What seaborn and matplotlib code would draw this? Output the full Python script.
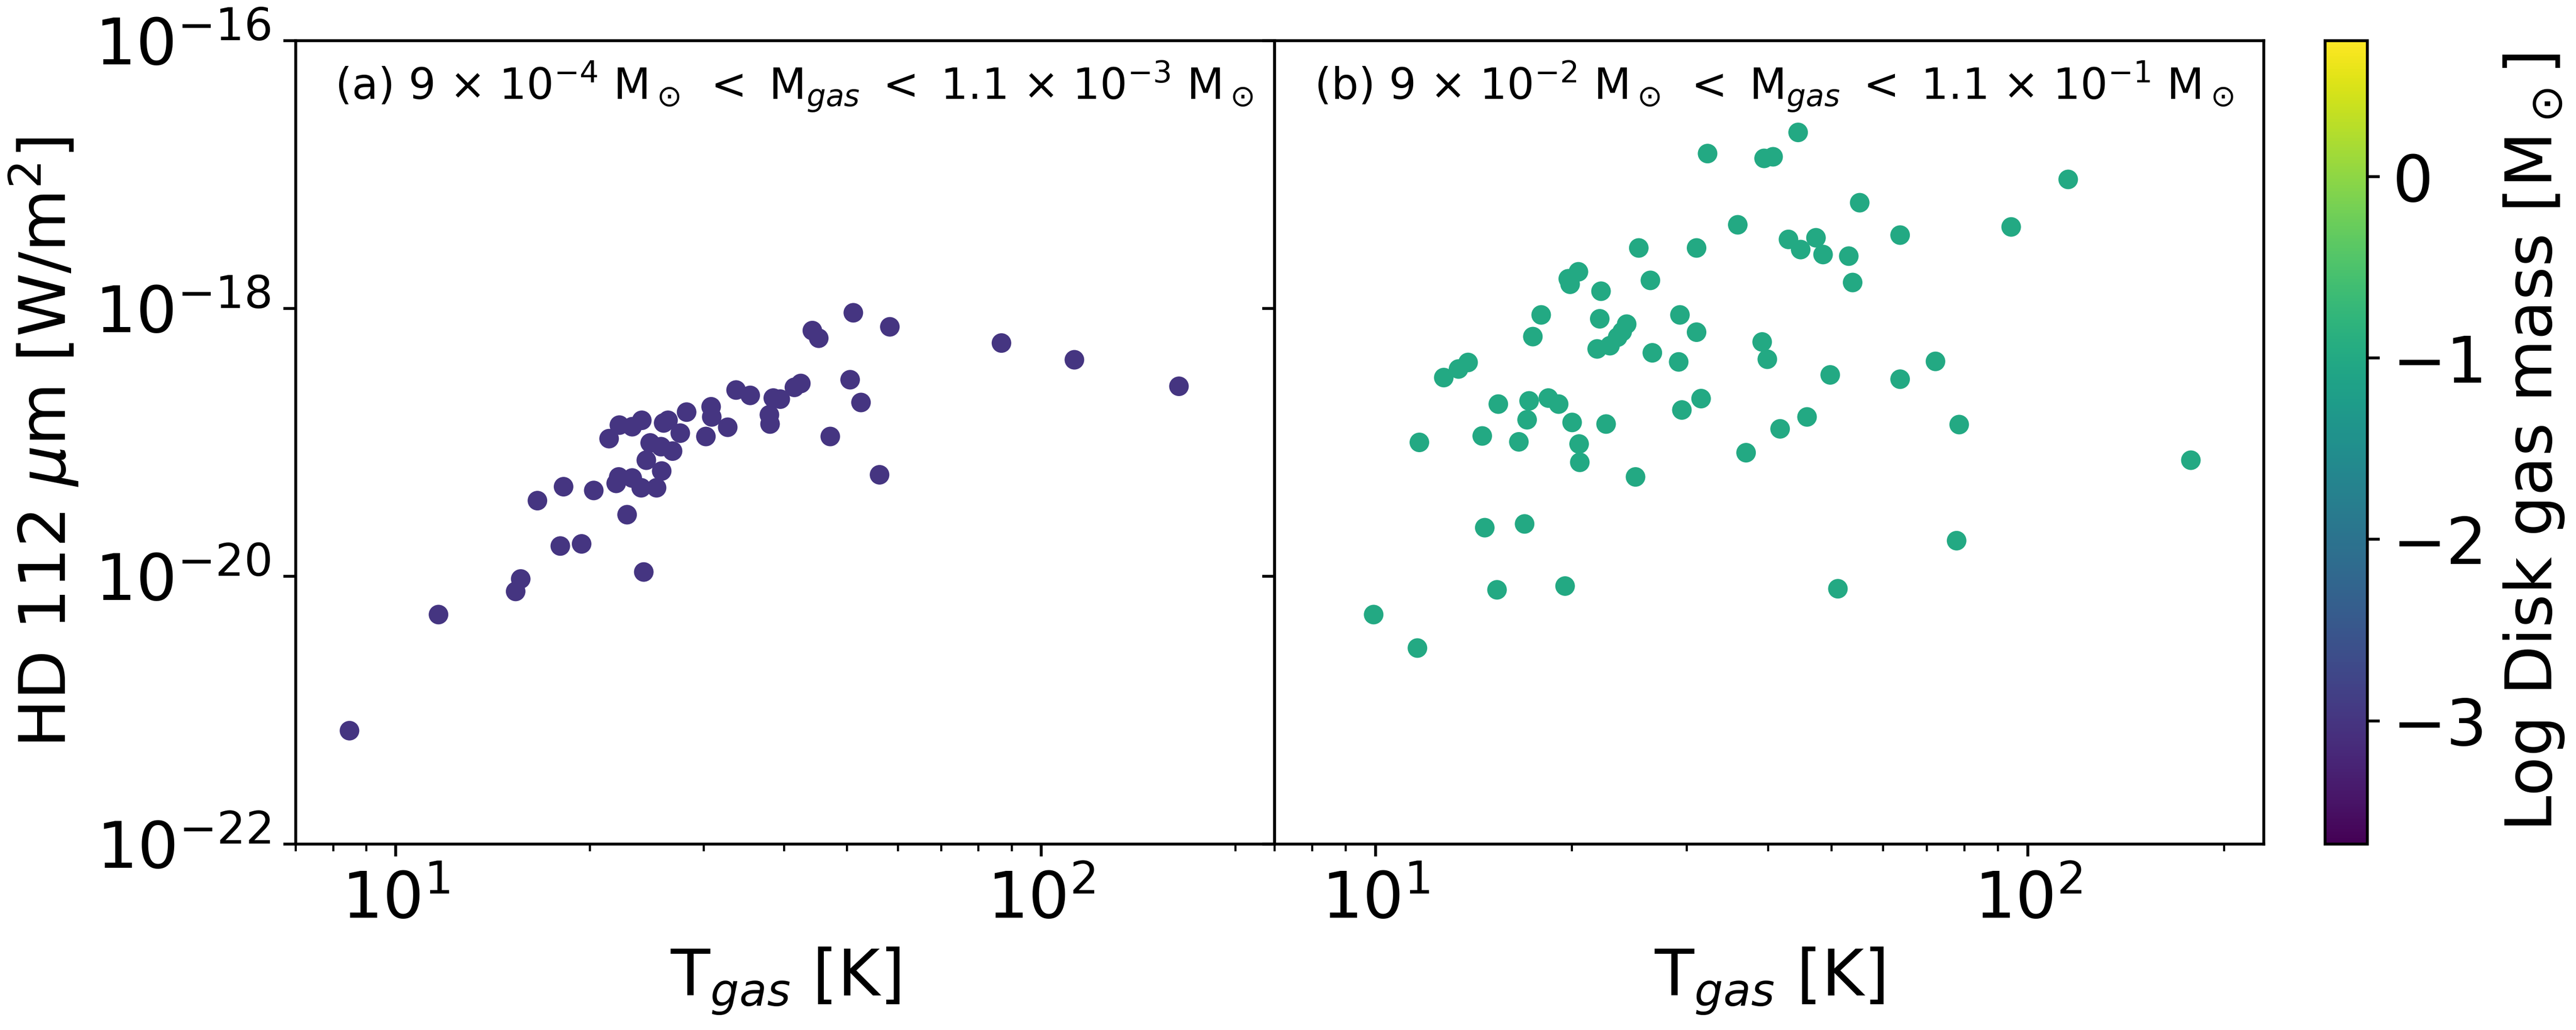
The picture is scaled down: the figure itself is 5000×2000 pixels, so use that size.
import numpy as np
import pandas as pd
import matplotlib
matplotlib.use("Agg")
import matplotlib.pyplot as plt
import matplotlib.ticker as mticker
import seaborn as sns

# ---------------- data ----------------
# panel (a): 9e-4 < Mgas < 1.1e-3 Msun
tgas_a = [8.48, 11.65, 15.34, 15.62, 16.58, 17.99, 18.20, 19.41, 20.27, 21.41,
          21.96, 22.16, 22.21, 22.83, 23.25, 23.25, 24.06, 24.01, 24.23, 24.45,
          24.79, 25.36, 25.83, 25.77, 26.01, 26.42, 26.85, 27.60, 28.23, 30.24,
          30.81, 30.88, 32.69, 33.68, 35.42, 37.93, 38.02, 38.46, 39.43, 41.47,
          42.43, 44.21, 45.23, 47.13, 50.59, 51.17, 52.59, 56.19, 58.29, 86.80,
          112.6, 163.5]
logflux_a = [-21.153, -20.286, -20.113, -20.020, -19.435, -19.774, -19.331, -19.758, -19.359, -18.972,
             -19.306, -19.258, -18.871, -19.540, -18.883, -19.266, -18.835, -19.339, -19.968, -19.133,
             -19.004, -19.339, -19.214, -19.032, -18.855, -18.835, -19.065, -18.931, -18.774, -18.956,
             -18.734, -18.810, -18.887, -18.609, -18.649, -18.794, -18.863, -18.669, -18.677, -18.589,
             -18.560, -18.165, -18.222, -18.956, -18.532, -18.032, -18.702, -19.242, -18.137, -18.258,
             -18.383, -18.581]
logmass_a = -3.0

# panel (b): 9e-2 < Mgas < 1.1e-1 Msun
tgas_b = [9.93, 11.59, 11.67, 12.72, 13.40, 13.86, 14.57, 14.70, 15.35, 15.42,
          16.58, 16.92, 17.07, 17.19, 17.42, 17.94, 18.40, 19.08, 19.52, 19.74,
          19.87, 20.01, 20.46, 20.51, 20.56, 21.86, 22.06, 22.16, 22.56, 22.87,
          23.50, 23.88, 24.26, 25.03, 25.32, 26.38, 26.56, 29.15, 29.28, 29.48,
          31.05, 31.05, 31.55, 32.28, 35.91, 36.98, 39.14, 39.41, 39.86, 40.68,
          41.70, 42.95, 44.44, 44.84, 45.86, 47.33, 48.53, 49.77, 51.14, 53.14,
          53.87, 55.23, 63.70, 63.70, 72.17, 77.76, 78.47, 94.28, 115.3, 177.8]
logflux_b = [-20.286, -20.536, -19.000, -18.516, -18.452, -18.403, -18.952, -19.637, -20.101, -18.714,
             -18.996, -19.609, -18.831, -18.690, -18.210, -18.048, -18.669, -18.714, -20.073, -17.778,
             -17.819, -18.851, -17.726, -19.012, -19.149, -18.302, -18.077, -17.871, -18.863, -18.278,
             -18.214, -18.173, -18.117, -19.258, -17.548, -17.790, -18.331, -18.399, -18.048, -18.758,
             -17.548, -18.177, -18.673, -16.843, -17.375, -19.077, -18.250, -16.879, -18.379, -16.867,
             -18.899, -17.484, -16.685, -17.560, -18.810, -17.472, -17.597, -18.496, -20.093, -17.609,
             -17.806, -17.210, -17.452, -18.528, -18.395, -19.734, -18.867, -17.391, -17.036, -19.133]
logmass_b = -1.0

panel_texts = [
    r"(a) 9 $\times$ 10$^{-4}$ M$_\odot$ $<$ M$_{gas}$ $<$ 1.1 $\times$ 10$^{-3}$ M$_\odot$",
    r"(b) 9 $\times$ 10$^{-2}$ M$_\odot$ $<$ M$_{gas}$ $<$ 1.1 $\times$ 10$^{-1}$ M$_\odot$",
]
cbar_ticks = [-3, -2, -1, 0]
mass_range = (-3.68, 0.75)

# ---------------- figure ----------------
plt.rcParams["font.family"] = ["DejaVu Sans"]
fig = plt.figure(figsize=(10, 4), dpi=500)
ax1 = fig.add_axes([0.1148, 0.1805, 0.380, 0.780])
ax2 = fig.add_axes([0.4948, 0.1805, 0.384, 0.780], sharey=ax1, sharex=ax1)
cax = fig.add_axes([0.9026, 0.1805, 0.0164, 0.780])

cmap = plt.get_cmap("viridis")
norm = matplotlib.colors.Normalize(vmin=mass_range[0], vmax=mass_range[1])

dfa = pd.DataFrame({"T": tgas_a, "F": 10.0 ** np.array(logflux_a), "M": logmass_a})
dfb = pd.DataFrame({"T": tgas_b, "F": 10.0 ** np.array(logflux_b), "M": logmass_b})

for ax, df, txt in [(ax1, dfa, panel_texts[0]), (ax2, dfb, panel_texts[1])]:
    sns.scatterplot(data=df, x="T", y="F", hue="M", palette="viridis",
                    hue_norm=norm, s=30, linewidth=0, legend=False, ax=ax)
    ax.set_xscale("log")
    ax.set_yscale("log")
    ax.text(0.04, 0.977, txt, transform=ax.transAxes, ha="left", va="top", fontsize=12)
    ax.set_xlabel(r"T$_{gas}$ [K]", fontsize=18)
    ax.tick_params(axis="both", which="major", labelsize=18)

ax1.set_xlim(7.0, 230)
ax1.set_ylim(1e-22, 1e-16)
ax1.yaxis.set_major_locator(mticker.FixedLocator([1e-22, 1e-20, 1e-18, 1e-16]))
ax1.yaxis.set_minor_locator(mticker.NullLocator())
ax1.set_ylabel(r"HD 112 $\mu$m [W/m$^2$]", fontsize=18)
ax2.set_ylabel("")
plt.setp(ax2.get_yticklabels(), visible=False)

sm = matplotlib.cm.ScalarMappable(norm=norm, cmap=cmap)
cb = fig.colorbar(sm, cax=cax, ticks=cbar_ticks)
cb.ax.tick_params(labelsize=18)
cb.set_label(r"Log Disk gas mass [M$_\odot$]", fontsize=18)

fig.savefig("out.png", dpi=500)
